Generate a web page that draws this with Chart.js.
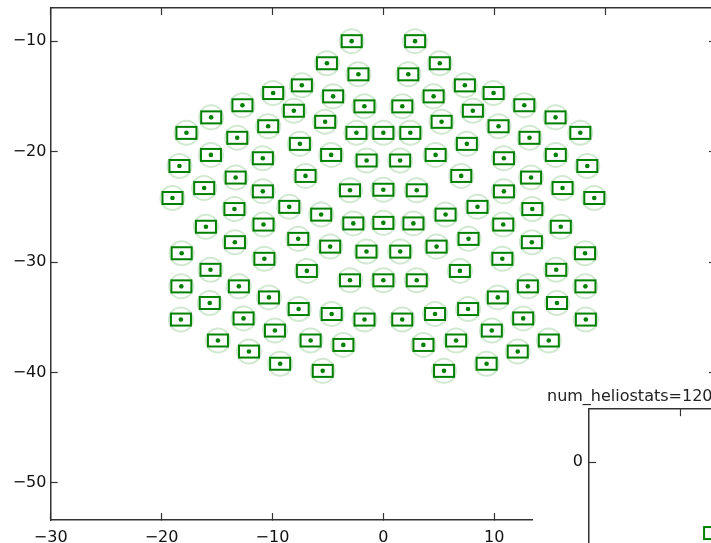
<!DOCTYPE html>
<html>
<head>
<meta charset="utf-8">
<script src="https://cdn.jsdelivr.net/npm/chart.js@4.4.1/dist/chart.umd.min.js"></script>
<style>
  html, body { margin: 0; padding: 0; background: #fff; }
  body { width: 711px; height: 543px; overflow: hidden; position: relative; }
  #field { position: absolute; left: 0; top: 0; }
  #inset { position: absolute; left: 533px; top: 383px; background: #fff; }
</style>
</head>
<body>
<canvas id="field" width="720" height="543"></canvas>
<canvas id="inset" width="260" height="240"></canvas>
<script>
// heliostat centres, west half / centre line / east half
const westX = [
  -2.86, -5.09, -2.25, -7.35, -9.94, -4.53, -12.71, -8.07, -1.71, -15.53,
  -5.25, -10.39, -17.76, -13.18, -2.43, -7.53, -15.55, -4.71, -10.87, -18.39,
  -1.51, -13.32, -7.02, -16.16, -19.02, -10.87, -3.01, -13.43, -8.49, -5.61,
  -16.0, -10.81, -2.71, -13.39, -7.68, -4.8, -1.52, -18.19, -10.73, -15.59,
  -6.9, -3.01, -18.22, -13.03, -10.32, -15.66, -7.64, -4.66, -1.7, -18.26,
  -12.61, -9.78, -14.92, -6.56, -3.61, -12.12, -9.31, -5.47
];
const westY = [
  -10.0, -12.0, -13.0, -14.0, -14.7, -15.0, -15.8, -16.3, -15.9, -16.9,
  -17.3, -17.7, -18.3, -18.75, -18.3, -19.3, -20.3, -20.3, -20.6, -21.3,
  -20.8, -22.35, -22.2, -23.3, -24.2, -23.6, -23.5, -25.2, -25.0, -25.7,
  -26.8, -26.6, -26.5, -28.2, -27.9, -28.6, -29.05, -29.2, -29.7, -30.7,
  -30.8, -31.65, -32.2, -32.2, -33.2, -33.7, -34.25, -34.7, -35.2, -35.2,
  -35.1, -36.2, -37.1, -37.1, -37.5, -38.1, -39.2, -39.85
];
const midX = [0, 0, 0, 0];
const midY = [-18.3, -23.45, -26.45, -31.65];
const eastX = [
  2.86, 5.09, 2.25, 7.35, 9.94, 4.53, 12.71, 8.07, 1.71, 15.53,
  5.25, 10.39, 17.76, 13.18, 2.43, 7.53, 15.55, 4.71, 10.87, 18.39,
  1.51, 13.32, 7.02, 16.16, 19.02, 10.87, 3.01, 13.43, 8.49, 5.61,
  16.0, 10.81, 2.71, 13.39, 7.68, 4.8, 1.52, 18.19, 10.73, 15.59,
  6.9, 3.01, 18.22, 13.03, 10.32, 15.66, 7.64, 4.66, 1.7, 18.26,
  12.61, 9.78, 14.92, 6.56, 3.61, 12.12, 9.31, 5.47
];
const eastY = [
  -10.0, -12.0, -13.0, -14.0, -14.7, -15.0, -15.8, -16.3, -15.9, -16.9,
  -17.3, -17.7, -18.3, -18.75, -18.3, -19.3, -20.3, -20.3, -20.6, -21.3,
  -20.8, -22.35, -22.2, -23.3, -24.2, -23.6, -23.5, -25.2, -25.0, -25.7,
  -26.8, -26.6, -26.5, -28.2, -27.9, -28.6, -29.05, -29.2, -29.7, -30.7,
  -30.8, -31.65, -32.2, -32.2, -33.2, -33.7, -34.25, -34.7, -35.2, -35.2,
  -35.1, -36.2, -37.1, -37.1, -37.5, -38.1, -39.2, -39.85
];
const xTicks = [-30, -20, -10, 0, 10, 20, 30];
const yTicks = [-10, -20, -30, -40, -50];

// second figure peeking in at the bottom right
const insetTitle = 'num_heliostats=120';
const insetX = [0.374];
const insetY = [-1.34];
const insetXTicks = [0];
const insetYTicks = [0];

Chart.defaults.font.family = "'DejaVu Sans', sans-serif";

const toPoints = (xs, ys) => xs.map((x, i) => ({ x: x, y: ys[i] }));
const points = toPoints(westX, westY)
  .concat(toPoints(midX, midY))
  .concat(toPoints(eastX, eastY));

const fmt = v => (v < 0 ? '\u2212' + Math.abs(v) : String(v));
const setTicks = list => scale => { scale.ticks = list.map(v => ({ value: v })); };

// fixed axis box sizes, no label overhang padding
const box = (w, h) => s => {
  if (w !== null) s.width = w;
  if (h !== null) s.height = h;
  s.paddingLeft = 0;
  s.paddingRight = 0;
  s.paddingTop = 0;
  s.paddingBottom = 0;
};

// outlined rectangle marker (the mirror outline)
function rectMarker() {
  const c = document.createElement('canvas');
  c.width = 24;
  c.height = 18;
  const g = c.getContext('2d');
  g.strokeStyle = 'rgb(0,128,0)';
  g.lineWidth = 2;
  g.strokeRect(2, 3, 20, 12);
  return c;
}
const mirror = rectMarker();

const frame = { display: true, color: '#333', width: 1.5 };
const inTicks = { drawOnChartArea: false, tickLength: -7, tickColor: '#333', tickWidth: 1.2, color: '#333' };
const labelFont = { size: 16 };

new Chart(document.getElementById('field'), {
  type: 'scatter',
  data: {
    datasets: [
      {
        label: 'centre',
        data: points,
        pointStyle: 'circle',
        pointRadius: 2.3,
        pointBorderWidth: 0,
        backgroundColor: 'rgb(0,128,0)',
        borderColor: 'rgb(0,128,0)'
      },
      {
        label: 'mirror',
        data: points,
        pointStyle: mirror,
        pointRadius: 10
      },
      {
        label: 'footprint',
        data: points,
        pointStyle: 'circle',
        pointRadius: 12,
        pointBorderWidth: 2,
        borderColor: 'rgba(0,128,0,0.18)',
        backgroundColor: 'rgba(255,255,255,0)'
      }
    ]
  },
  options: {
    responsive: false,
    animation: false,
    devicePixelRatio: 1,
    layout: { autoPadding: false, padding: { left: 0, right: 4, top: 0, bottom: 0 } },
    plugins: { legend: { display: false }, tooltip: { enabled: false } },
    scales: {
      x: {
        type: 'linear', position: 'bottom', min: -30, max: 30,
        afterBuildTicks: setTicks(xTicks),
        afterFit: box(null, 23),
        border: frame, grid: inTicks,
        ticks: { padding: 15, color: '#111', font: labelFont, callback: fmt, maxRotation: 0, autoSkip: false }
      },
      y: {
        type: 'linear', position: 'left', min: -53.35, max: -7,
        afterBuildTicks: setTicks(yTicks),
        afterFit: box(50.7, null),
        border: frame, grid: inTicks,
        ticks: { padding: 11.3, color: '#111', font: labelFont, callback: fmt, autoSkip: false }
      },
      x2: {
        type: 'linear', position: 'top', min: -30, max: 30,
        afterBuildTicks: setTicks(xTicks),
        afterFit: box(null, 8),
        border: frame, grid: inTicks,
        ticks: { display: false }
      },
      y2: {
        type: 'linear', position: 'right', min: -53.35, max: -7,
        afterBuildTicks: setTicks(yTicks),
        afterFit: box(0, null),
        border: frame, grid: inTicks,
        ticks: { display: false }
      }
    }
  }
});

new Chart(document.getElementById('inset'), {
  type: 'scatter',
  data: {
    datasets: [{
      data: toPoints(insetX, insetY),
      pointStyle: mirror,
      pointRadius: 10
    }]
  },
  options: {
    responsive: false,
    animation: false,
    devicePixelRatio: 1,
    layout: { autoPadding: false, padding: { left: 14, right: 22, top: 0, bottom: 0 } },
    plugins: {
      legend: { display: false },
      tooltip: { enabled: false },
      title: {
        display: true, text: insetTitle, align: 'start', color: '#222',
        font: { size: 16, weight: 'normal' }, padding: { top: 4, bottom: 3 }
      }
    },
    scales: {
      x: {
        type: 'linear', position: 'top', min: -1, max: 1,
        afterBuildTicks: setTicks(insetXTicks),
        afterFit: box(null, 0),
        border: frame, grid: inTicks,
        ticks: { display: false }
      },
      y: {
        type: 'linear', position: 'left', min: -3.04, max: 1,
        afterBuildTicks: setTicks(insetYTicks),
        afterFit: box(42, null),
        border: frame, grid: inTicks,
        ticks: { padding: 13, color: '#111', font: labelFont, callback: fmt }
      }
    }
  }
});
</script>
</body>
</html>
